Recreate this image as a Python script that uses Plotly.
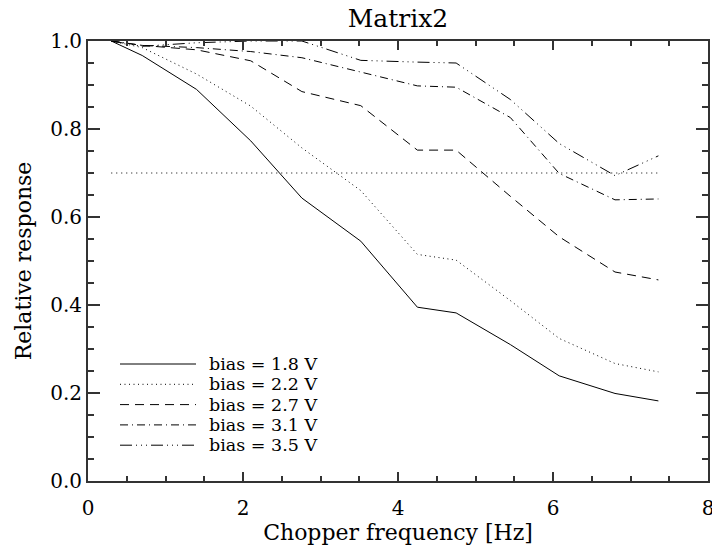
import plotly.graph_objects as go

# ---- data ----
freq = [0.3, 0.7, 1.4, 2.1, 2.76, 3.52, 4.25, 4.75, 5.45, 6.08, 6.8, 7.36]
bias_labels = ["bias = 1.8 V", "bias = 2.2 V", "bias = 2.7 V", "bias = 3.1 V", "bias = 3.5 V"]
resp_18 = [1.0, 0.967, 0.890, 0.773, 0.643, 0.545, 0.395, 0.382, 0.310, 0.239, 0.199, 0.182]
resp_22 = [1.0, 0.985, 0.925, 0.852, 0.757, 0.660, 0.515, 0.502, 0.410, 0.324, 0.267, 0.248]
resp_27 = [1.0, 0.990, 0.980, 0.955, 0.885, 0.853, 0.752, 0.752, 0.647, 0.555, 0.475, 0.457]
resp_31 = [1.0, 0.990, 0.985, 0.976, 0.962, 0.930, 0.898, 0.895, 0.826, 0.699, 0.639, 0.641]
resp_35 = [1.0, 0.988, 0.996, 1.0, 1.0, 0.956, 0.952, 0.950, 0.867, 0.767, 0.694, 0.739]
threshold = 0.7
x_ticks = [0, 2, 4, 6, 8]
y_ticks = [0.0, 0.2, 0.4, 0.6, 0.8, 1.0]

series = [resp_18, resp_22, resp_27, resp_31, resp_35]
dashes = ["solid", "1px,3.5px", "9px,6px", "8px,4px,1px,4px",
          "12px,4px,1px,4px,1px,4px,1px,4px"]

FONT = "DejaVu Serif"
AX = "#333333"
W, H = 712, 545
ML, MR, MT, MB = 88, 4, 41, 64
pw, ph = W - ML - MR, H - MT - MB

fig = go.Figure()
for vals, lab, d in zip(series, bias_labels, dashes):
    fig.add_trace(go.Scatter(x=freq, y=vals, mode="lines", name=lab,
                             line=dict(color="black", width=1, dash=d),
                             showlegend=False))
fig.add_trace(go.Scatter(x=[freq[0], freq[-1]], y=[threshold, threshold], mode="lines",
                         line=dict(color="black", width=1, dash="1px,4px"),
                         showlegend=False))

# manual legend (samples + labels), stacked rows
row0, drow = 364, 20.3
for i, (lab, d) in enumerate(zip(bias_labels, dashes)):
    py = row0 + i * drow
    yp = (H - MB - py) / ph
    fig.add_shape(type="line", xref="paper", yref="paper",
                  x0=(120 - ML) / pw, x1=(196 - ML) / pw, y0=yp, y1=yp,
                  line=dict(color="black", width=1, dash=d))
    fig.add_annotation(xref="paper", yref="paper", x=(208 - ML) / pw, y=yp,
                       text=lab, showarrow=False, xanchor="left", yanchor="middle",
                       borderpad=0,
                       font=dict(family=FONT, size=17.5, color="black"))

axis_common = dict(showline=True, linecolor=AX, linewidth=2, mirror="allticks",
                   ticks="inside", tickcolor=AX, tickwidth=1.5, showgrid=False,
                   zeroline=False, automargin=False, ticklabeloverflow="allow",
                   layer="above traces",
                   tickfont=dict(family=FONT, size=20, color="black"))

fig.update_layout(
    width=W, height=H,
    margin=dict(l=ML, r=MR, t=MT, b=MB),
    paper_bgcolor="white", plot_bgcolor="white",
    template="none",
    title=dict(text="Matrix2", x=(398) / W, xanchor="center", y=1 - 18 / H, yanchor="middle",
               font=dict(family=FONT, size=25, color="black")),
    xaxis=dict(range=[0, 8], tickvals=x_ticks, ticktext=[str(v) for v in x_ticks], ticklen=9,
               ticklabelstandoff=8,
               minor=dict(dtick=0.5, ticks="inside", ticklen=5, tickcolor=AX, tickwidth=1.5,
                          showgrid=False),
               title=dict(text="Chopper frequency [Hz]", standoff=4,
                          font=dict(family=FONT, size=22, color="black")),
               **axis_common),
    yaxis=dict(range=[0, 1], tickvals=y_ticks, ticktext=[f"{v:.1f}" for v in y_ticks], ticklen=12,
               minor=dict(dtick=0.05, ticks="inside", ticklen=6, tickcolor=AX, tickwidth=1.5,
                          showgrid=False),
               title=dict(text="Relative response", standoff=12,
                          font=dict(family=FONT, size=22, color="black")),
               **axis_common),
)

fig.write_html("out.html", config={"displayModeBar": False},
               post_script="document.body.style.margin='0';document.body.style.padding='0';"
                           "document.body.style.overflow='hidden';")
